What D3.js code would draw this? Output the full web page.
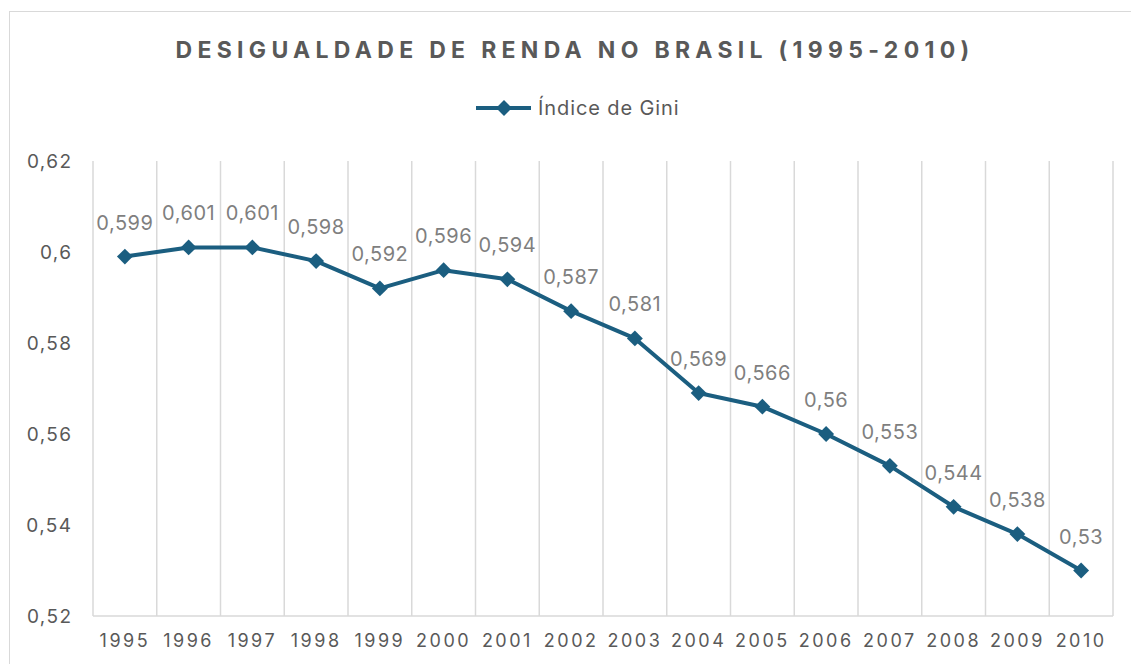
<!DOCTYPE html>
<html><head><meta charset="utf-8">
<script src="https://cdn.jsdelivr.net/npm/d3@7/dist/d3.min.js"></script>
<style>body{margin:0;background:#fff}svg{display:block}text{font-family:Inter,"Open Sans",sans-serif}</style>
</head><body>
<script>
const years = ["1995","1996","1997","1998","1999","2000","2001","2002","2003","2004","2005","2006","2007","2008","2009","2010"];
const gini = [0.599,0.601,0.601,0.598,0.592,0.596,0.594,0.587,0.581,0.569,0.566,0.56,0.553,0.544,0.538,0.53];
const yTicks = [0.52,0.54,0.56,0.58,0.6,0.62];
const title = "DESIGUALDADE DE RENDA NO BRASIL (1995-2010)";
const seriesName = "Índice de Gini";

const W=1131,H=664;
const svg=d3.select("body").append("svg").attr("width",W).attr("height",H);
svg.append("rect").attr("x",9.5).attr("y",11.5).attr("width",W+10).attr("height",H+10).attr("fill","#fff").attr("stroke","#d9d9d9");
const L=93,R=1113,T=161,B=616;
const x=d3.scaleBand().domain(years).range([L,R]).padding(0);
const y=d3.scaleLinear().domain([0.52,0.62]).range([B,T]);
const fmt=v=>String(+v.toFixed(3)).replace(".",",");
const col="#1b5e80", txt="#595959";

// vertical gridlines at band boundaries
const bounds=years.map(d=>x(d)).concat([R]);
svg.append("g").selectAll("line").data(bounds).join("line")
 .attr("x1",d=>d).attr("x2",d=>d).attr("y1",T).attr("y2",B)
 .attr("stroke","#d9d9d9").attr("stroke-width",1.5);
svg.append("line").attr("x1",L).attr("x2",R).attr("y1",B).attr("y2",B).attr("stroke","#d9d9d9").attr("stroke-width",1.5);

// y axis
const ya=svg.append("g").attr("transform",`translate(${L-22},0)`).call(d3.axisLeft(y).tickValues(yTicks).tickSize(0).tickPadding(0).tickFormat(fmt));
ya.select(".domain").remove();
ya.selectAll("text").attr("fill",txt).style("font-size","19px").style("letter-spacing","1.4px").attr("dx","1.4px").attr("dy","0.35em");

// x axis
const xa=svg.append("g").attr("transform",`translate(0,${B})`).call(d3.axisBottom(x).tickSize(0).tickPadding(18));
xa.select(".domain").remove();
xa.selectAll("text").attr("fill",txt).style("font-size","18px").style("letter-spacing","2.5px").attr("dy","0.71em");

// line
const cx=d=>x(d)+x.bandwidth()/2;
svg.append("path").datum(years.map((d,i)=>[cx(d),y(gini[i])]))
 .attr("d",d3.line()).attr("fill","none").attr("stroke",col).attr("stroke-width",4).attr("stroke-linejoin","round");
const diamond=d3.symbol().type(d3.symbolDiamond2).size(160);
svg.append("g").selectAll("path").data(years).join("path")
 .attr("d",diamond).attr("transform",(d,i)=>`translate(${cx(d)},${y(gini[i])})`).attr("fill",col);
svg.append("g").selectAll("text").data(years).join("text")
 .attr("x",d=>cx(d)).attr("y",(d,i)=>y(gini[i])-27).attr("text-anchor","middle")
 .attr("fill","#7f7f7f").style("font-size","20px").style("letter-spacing","0.5px").text((d,i)=>fmt(gini[i]));

// title
svg.append("text").attr("x",575).attr("y",58).attr("text-anchor","middle").attr("fill",txt)
 .style("font-size","23px").style("font-weight","bold").style("letter-spacing","5.3px").text(title);

// legend
svg.append("line").attr("x1",476).attr("x2",531).attr("y1",108).attr("y2",108).attr("stroke",col).attr("stroke-width",4);
svg.append("path").attr("d",diamond).attr("transform","translate(504,108)").attr("fill",col);
svg.append("text").attr("x",538).attr("y",108).attr("dy","0.35em").attr("fill",txt).style("font-size","20px").style("letter-spacing","0.9px").text(seriesName);
</script>
</body></html>
